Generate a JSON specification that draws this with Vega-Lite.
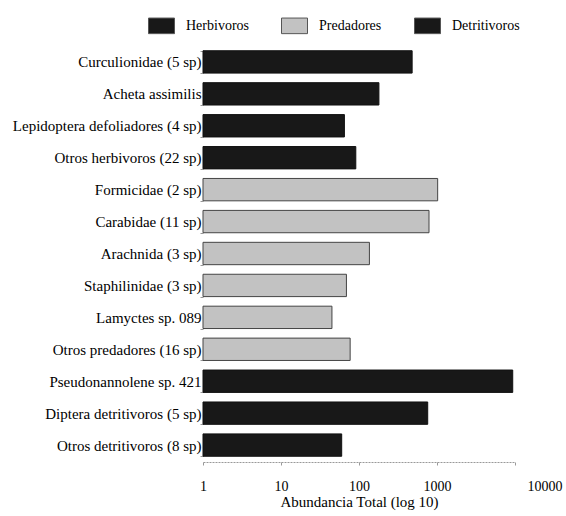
{
  "$schema": "https://vega.github.io/schema/vega-lite/v6.json",
  "width": 312,
  "height": 417,
  "autosize": "none",
  "padding": {"left": 203, "top": 45, "right": 51, "bottom": 54},
  "background": "white",
  "config": {
    "view": {"stroke": null},
    "font": "Liberation Serif"
  },
  "data": {
    "values": [
      {"taxon": "Curculionidae (5 sp)", "grupo": "Herbivoros", "abundancia": 480},
      {"taxon": "Acheta assimilis", "grupo": "Herbivoros", "abundancia": 180},
      {"taxon": "Lepidoptera defoliadores (4 sp)", "grupo": "Herbivoros", "abundancia": 65},
      {"taxon": "Otros herbivoros (22 sp)", "grupo": "Herbivoros", "abundancia": 91},
      {"taxon": "Formicidae (2 sp)", "grupo": "Predadores", "abundancia": 1020},
      {"taxon": "Carabidae (11 sp)", "grupo": "Predadores", "abundancia": 790},
      {"taxon": "Arachnida (3 sp)", "grupo": "Predadores", "abundancia": 136},
      {"taxon": "Staphilinidae (3 sp)", "grupo": "Predadores", "abundancia": 69},
      {"taxon": "Lamyctes sp. 089", "grupo": "Predadores", "abundancia": 45},
      {"taxon": "Otros predadores (16 sp)", "grupo": "Predadores", "abundancia": 77},
      {"taxon": "Pseudonannolene sp. 421", "grupo": "Detritivoros", "abundancia": 9350},
      {"taxon": "Diptera detritivoros (5 sp)", "grupo": "Detritivoros", "abundancia": 760},
      {"taxon": "Otros detritivoros (8 sp)", "grupo": "Detritivoros", "abundancia": 60}
    ]
  },
  "mark": {"type": "bar", "strokeWidth": 1},
  "encoding": {
    "y": {
      "field": "taxon",
      "type": "nominal",
      "sort": null,
      "scale": {"paddingInner": 0.3, "paddingOuter": 0.18},
      "axis": {
        "title": null,
        "domain": false,
        "tickBand": "extent",
        "tickSize": 3,
        "tickColor": "#999",
        "labelFontSize": 15,
        "labelColor": "#000",
        "labelPadding": -1,
        "labelLimit": 0
      }
    },
    "x": {
      "field": "abundancia",
      "type": "quantitative",
      "scale": {"type": "log", "domain": [1, 10000], "nice": false},
      "axis": {
        "title": "Abundancia Total (log 10)",
        "titleFontSize": 15,
        "titleFontWeight": "normal",
        "titleColor": "#000",
        "titlePadding": 1,
        "values": [1, 10, 100, 1000, 10000],
        "format": "d",
        "grid": false,
        "domainColor": "#999",
        "domainDash": [2, 1],
        "tickColor": "#999",
        "tickSize": 3,
        "labelFontSize": 14,
        "labelColor": "#000",
        "labelPadding": 14,
        "labelFlush": false,
        "labelOverlap": false,
        "labelAlign": {"condition": {"test": "datum.value === 10000", "value": "left"}, "value": "center"},
        "labelOffset": {"condition": {"test": "datum.value === 10000", "value": 12}, "value": 0}
      }
    },
    "x2": {"datum": 1},
    "fill": {
      "field": "grupo",
      "type": "nominal",
      "scale": {
        "domain": ["Herbivoros", "Predadores", "Detritivoros"],
        "range": ["#181818", "#c2c2c2", "#181818"]
      },
      "legend": {
        "title": null,
        "orient": "none",
        "legendX": -55,
        "legendY": -33,
        "direction": "horizontal",
        "padding": 0,
        "symbolType": "M-1,-0.6H1V0.6H-1Z",
        "symbolSize": 676,
        "symbolStrokeColor": "#555",
        "symbolStrokeWidth": 1,
        "labelFontSize": 14,
        "labelColor": "#000",
        "labelOffset": 11,
        "columnPadding": 30
      }
    },
    "stroke": {
      "condition": {"test": "datum.grupo === 'Predadores'", "value": "#444"},
      "value": "#111"
    }
  }
}
